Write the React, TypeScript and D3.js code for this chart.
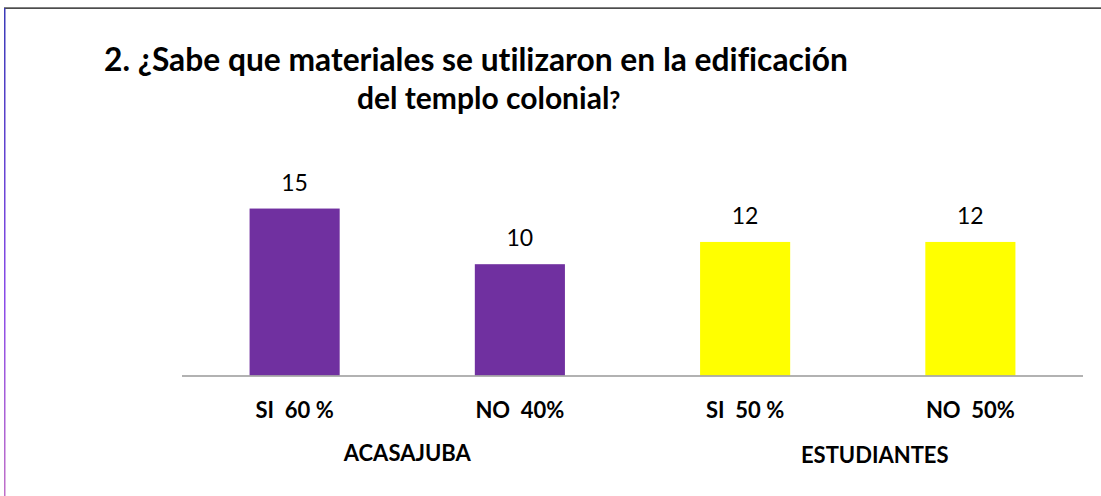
import React from "react";
import * as d3 from "d3";

const categories = ["SI  60 %", "NO  40%", "SI  50 %", "NO  50%"];
const values = [15, 10, 12, 12];
const groups = ["ACASAJUBA", "ESTUDIANTES"];
const groupColors = ["#7030a0", "#ffff00"];
const titleLines = ["2. ¿Sabe que materiales se utilizaron en la edificación", "del templo colonial", "?"];

const W = 1101;
const H = 496;
const FONT = "Lato, 'Open Sans', sans-serif";
const noLig = { fontVariantLigatures: "none", whiteSpace: "pre" } as React.CSSProperties;

export default function App() {
  const x = d3.scaleBand<string>().domain(categories).range([182, 1083]).paddingInner(0.6).paddingOuter(0.3);
  const y = d3.scaleLinear().domain([0, 16]).range([375.5, 375.5 - 16 * 11.13]);
  const groupOf = (i: number) => Math.floor(i / 2);
  const groupOffsets = [0, 17];

  return (
    <svg
      width={W}
      height={H}
      style={{ position: "absolute", left: 0, top: 0, background: "#fff", display: "block" }}
    >
      <defs>
        <linearGradient id="leftEdge" x1="0" y1="0" x2="0" y2="1">
          <stop offset="0%" stopColor="#3a3ab8" />
          <stop offset="60%" stopColor="#8a4ae8" />
          <stop offset="100%" stopColor="#c070c8" />
        </linearGradient>
      </defs>
      <rect x={0} y={0} width={W} height={H} fill="#fff" />
      <rect x={4} y={7.5} width={W - 4} height={1.2} fill="#000" />
      <rect x={4} y={8} width={1.5} height={H - 8} fill="url(#leftEdge)" />

      <text x={104} y={71} fontFamily={FONT} fontWeight={700} fontSize={33} fill="#000" textLength={744} lengthAdjust="spacingAndGlyphs" style={noLig}>
        {titleLines[0]}
      </text>
      <text x={357} y={109} fontFamily={FONT} fontWeight={700} fontSize={30} fill="#000" style={noLig}>
        {titleLines[1]}
        <tspan fontSize={24}>{titleLines[2]}</tspan>
      </text>

      {categories.map((c, i) => (
        <rect
          key={"b" + c}
          x={x(c)}
          y={y(values[i])}
          width={x.bandwidth()}
          height={y(0) - y(values[i])}
          fill={groupColors[groupOf(i)]}
        />
      ))}

      <line x1={182} x2={1083} y1={y(0) + 0.5} y2={y(0) + 0.5} stroke="#999" strokeWidth={1.6} />

      {categories.map((c, i) => (
        <text
          key={"v" + c}
          x={(x(c) as number) + x.bandwidth() / 2}
          y={y(values[i]) - 18}
          textAnchor="middle"
          fontFamily={FONT}
          fontSize={23}
          fill="#000"
        >
          {values[i]}
        </text>
      ))}

      {categories.map((c, i) => (
        <text
          key={"c" + c}
          x={(x(c) as number) + x.bandwidth() / 2}
          y={417.5}
          textAnchor="middle"
          fontFamily={FONT}
          fontWeight={700}
          fontSize={22}
          fill="#000"
          style={noLig}
        >
          {c}
        </text>
      ))}

      {groups.map((g, gi) => {
        const c0 = categories[gi * 2];
        const c1 = categories[gi * 2 + 1];
        const cx = ((x(c0) as number) + (x(c1) as number) + x.bandwidth()) / 2 + groupOffsets[gi];
        return (
          <text
            key={"g" + g}
            x={cx}
            y={461 + gi * 2}
            textAnchor="middle"
            fontFamily={FONT}
            fontWeight={700}
            fontSize={22}
            fill="#000"
            style={noLig}
          >
            {g}
          </text>
        );
      })}
    </svg>
  );
}
